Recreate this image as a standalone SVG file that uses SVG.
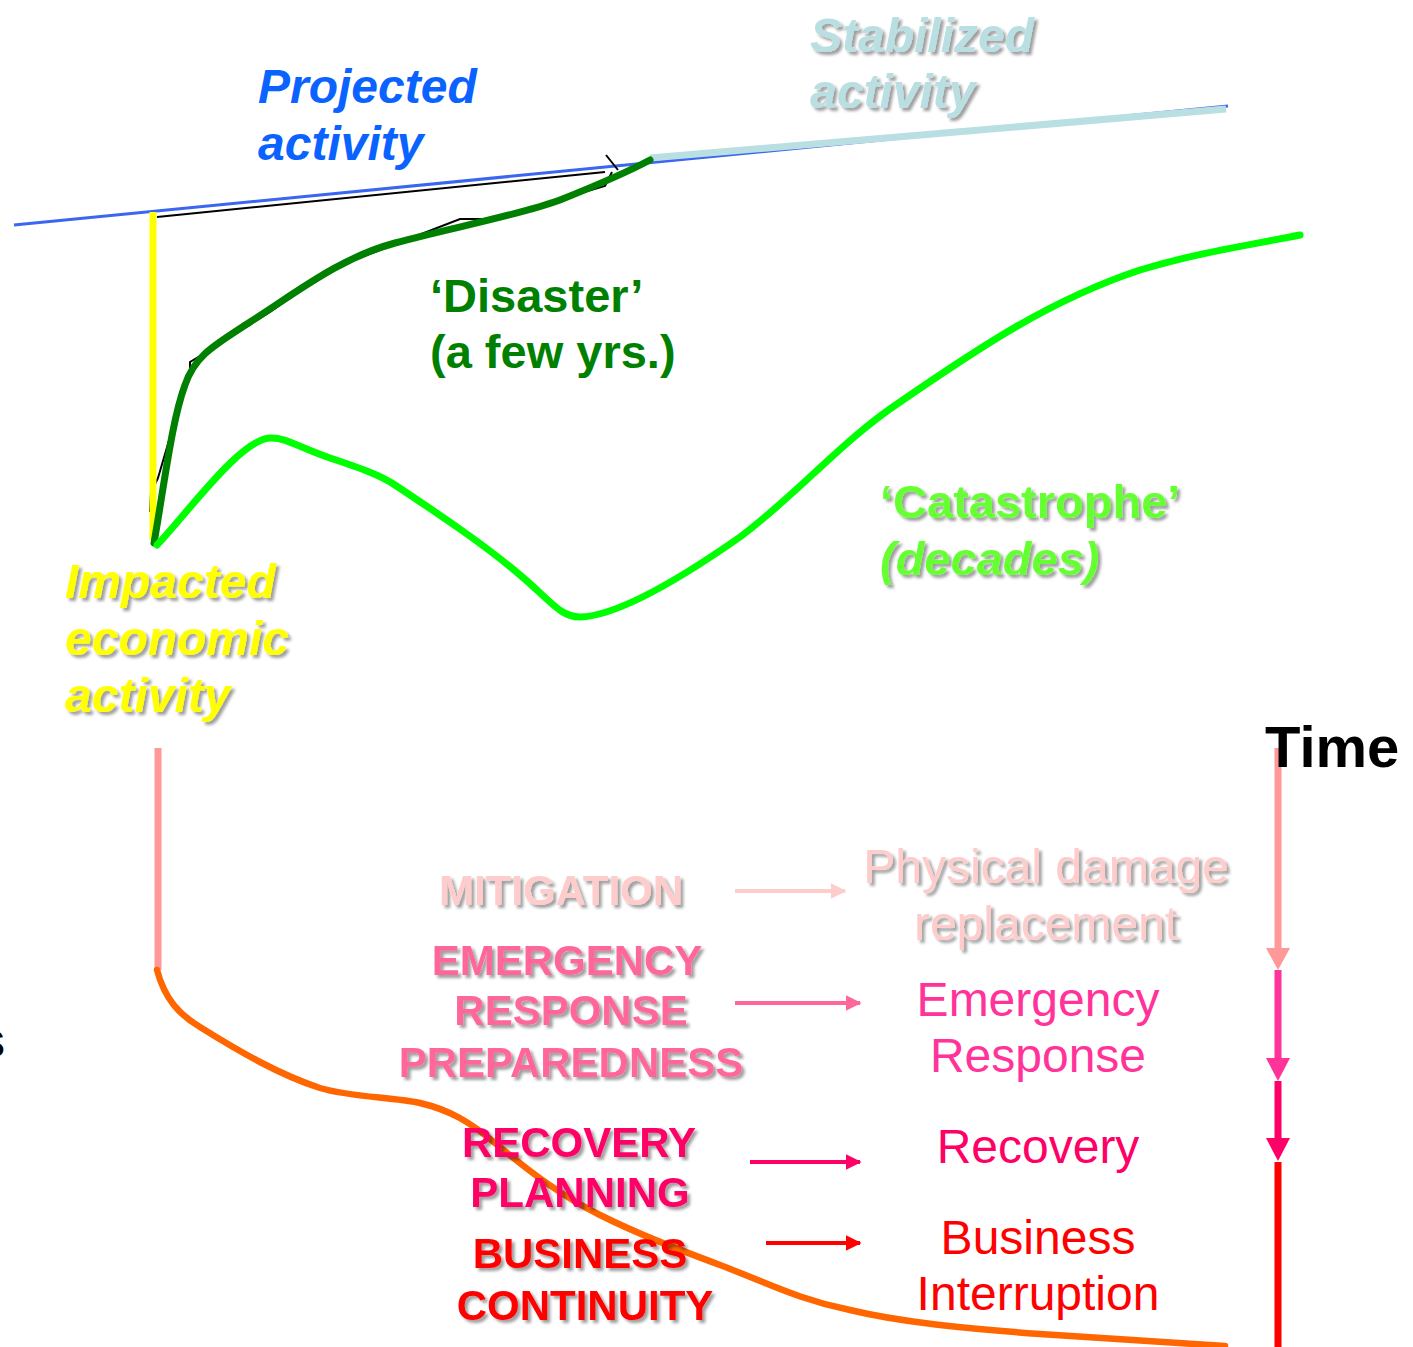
<svg xmlns="http://www.w3.org/2000/svg" width="1413" height="1347" viewBox="0 0 1413 1347">
  <style>
    text { font-family: "Liberation Sans", Arial, sans-serif; }
    .b { font-weight: bold; }
    .bi { font-weight: bold; font-style: italic; }
    .caps { font-weight: bold; font-size: 42px; text-anchor: middle; }
    .rt { font-size: 48px; text-anchor: middle; }
    .curve { fill: none; stroke-linecap: round; stroke-linejoin: round; }
  </style>
  <defs>
    <filter id="shadow" x="-10%" y="-20%" width="130%" height="150%">
      <feDropShadow dx="3" dy="3" stdDeviation="1.5" flood-color="#000" flood-opacity="0.38"/>
    </filter>
    <marker id="headPale" viewBox="0 0 10 10" refX="9" refY="5" markerWidth="4" markerHeight="4" orient="auto" markerUnits="strokeWidth">
      <path d="M0,0 L10,5 L0,10 Z" fill="#ffcccc"/>
    </marker>
    <marker id="headPink" viewBox="0 0 10 10" refX="9" refY="5" markerWidth="4" markerHeight="4" orient="auto" markerUnits="strokeWidth">
      <path d="M0,0 L10,5 L0,10 Z" fill="#ff6699"/>
    </marker>
    <marker id="headMagenta" viewBox="0 0 10 10" refX="9" refY="5" markerWidth="4" markerHeight="4" orient="auto" markerUnits="strokeWidth">
      <path d="M0,0 L10,5 L0,10 Z" fill="#ff0066"/>
    </marker>
    <marker id="headRed" viewBox="0 0 10 10" refX="9" refY="5" markerWidth="4" markerHeight="4" orient="auto" markerUnits="strokeWidth">
      <path d="M0,0 L10,5 L0,10 Z" fill="#ff0000"/>
    </marker>
  </defs>

  <rect width="1413" height="1347" fill="#ffffff"/>

  <!-- activity curves -->
  <g id="curves">
    <line id="projected-line" x1="14" y1="225" x2="1228" y2="106" stroke="#3a66f0" stroke-width="3"/>
    <line id="stabilized-line" x1="650" y1="158" x2="1226" y2="109" stroke="#b9dfe2" stroke-width="7"/>
    <g id="trace" fill="none" stroke="#000" stroke-width="2">
      <line x1="157" y1="217" x2="605" y2="172"/>
      <line x1="606" y1="155" x2="618" y2="170"/>
      <polyline points="150,512 151,493 158,478 175,420 190,375 190,362 210,350 270,312 335,267 380,250 460,219 491,219 540,205 605,186 612,172"/>
    </g>
    <line id="impact-drop" x1="153" y1="212" x2="153" y2="540" stroke="#ffff00" stroke-width="7"/>
    <path id="disaster-curve" class="curve" stroke="#008000" stroke-width="7"
          d="M154,543 C165,480 172,420 185,385 C195,355 215,345 250,322 C300,290 340,258 395,243 C450,228 520,215 560,200 C590,188 620,176 650,160"/>
    <path id="catastrophe-curve" class="curve" stroke="#00ff00" stroke-width="7"
          d="M157,545 C190,510 240,440 270,438 C285,437 300,448 330,458 C360,468 380,475 395,485 C440,515 485,545 520,575 C550,600 560,617 580,617 C620,616 690,572 740,537 C800,492 840,442 900,402 C980,347 1050,300 1140,270 C1200,252 1250,245 1300,235"/>
  </g>

  <!-- loss curve and timeline connectors -->
  <g id="connectors">
    <line x1="158" y1="748" x2="158" y2="970" stroke="#ff9999" stroke-width="7"/>
    <path class="curve" stroke="#ff6600" stroke-width="6.5"
          d="M157,970 C165,1000 180,1015 200,1027 C240,1052 280,1075 320,1088 C350,1097 390,1097 420,1103 C450,1110 470,1122 495,1143 C530,1172 560,1195 600,1215 C640,1235 680,1250 720,1265 C770,1284 800,1300 850,1310 C900,1322 960,1328 1040,1334 C1120,1339 1180,1343 1225,1346"/>

    <!-- time axis -->
    <line x1="1278" y1="748" x2="1278" y2="950" stroke="#ff9999" stroke-width="7"/>
    <polygon points="1266,948 1290,948 1278,970" fill="#ff9999"/>
    <line x1="1278" y1="970" x2="1278" y2="1060" stroke="#ff3399" stroke-width="7"/>
    <polygon points="1266,1058 1290,1058 1278,1081" fill="#ff3399"/>
    <line x1="1278" y1="1081" x2="1278" y2="1140" stroke="#ff0066" stroke-width="7"/>
    <polygon points="1266,1138 1290,1138 1278,1161" fill="#ff0066"/>
    <line x1="1278" y1="1162" x2="1278" y2="1347" stroke="#ff0000" stroke-width="7"/>

    <!-- phase to consequence arrows -->
    <line x1="735" y1="891" x2="845" y2="891" stroke="#ffcccc" stroke-width="4" marker-end="url(#headPale)"/>
    <line x1="735" y1="1003" x2="860" y2="1003" stroke="#ff6699" stroke-width="4" marker-end="url(#headPink)"/>
    <line x1="750" y1="1162" x2="860" y2="1162" stroke="#ff0066" stroke-width="4" marker-end="url(#headMagenta)"/>
    <line x1="766" y1="1243" x2="860" y2="1243" stroke="#ff0000" stroke-width="4" marker-end="url(#headRed)"/>
  </g>

  <!-- curve labels -->
  <g id="label-projected">
    <text class="bi" x="258" y="103" font-size="48" fill="#0a62ff">Projected</text>
    <text class="bi" x="258" y="160" font-size="48" fill="#0a62ff">activity</text>
  </g>
  <g id="label-stabilized" filter="url(#shadow)">
    <text class="bi" x="810" y="52" font-size="48" fill="#b9dfe2">Stabilized</text>
    <text class="bi" x="810" y="108" font-size="48" fill="#b9dfe2">activity</text>
  </g>
  <g id="label-disaster">
    <text class="b" x="430" y="312" font-size="47" fill="#008000">‘Disaster’</text>
    <text class="b" x="430" y="368" font-size="47" fill="#008000">(a few yrs.)</text>
  </g>
  <g id="label-catastrophe" filter="url(#shadow)">
    <text class="b" x="880" y="518" font-size="47" fill="#66ff33">‘Catastrophe’</text>
    <text class="bi" x="880" y="575" font-size="47" fill="#66ff33">(decades)</text>
  </g>
  <g id="label-impacted" filter="url(#shadow)">
    <text class="bi" x="65" y="598" font-size="48" fill="#ffff00">Impacted</text>
    <text class="bi" x="65" y="655" font-size="48" fill="#ffff00">economic</text>
    <text class="bi" x="65" y="712" font-size="48" fill="#ffff00">activity</text>
  </g>
  <g id="label-time">
    <text class="b" x="1265" y="767" font-size="58" fill="#000">Time</text>
  </g>
  <text x="-19" y="1057" font-size="48" fill="#000">s</text>

  <!-- phases -->
  <g id="phase-mitigation" filter="url(#shadow)">
    <text class="caps" x="561" y="905" fill="#ffcccc">MITIGATION</text>
  </g>
  <g id="phase-emergency" filter="url(#shadow)">
    <text class="caps" x="567" y="975" fill="#ff6699">EMERGENCY</text>
    <text class="caps" x="571" y="1025" fill="#ff6699">RESPONSE</text>
    <text class="caps" x="571" y="1077" fill="#ff6699">PREPAREDNESS</text>
  </g>
  <g id="phase-recovery" filter="url(#shadow)">
    <text class="caps" x="579" y="1157" fill="#ff0066">RECOVERY</text>
    <text class="caps" x="580" y="1207" fill="#ff0066">PLANNING</text>
  </g>
  <g id="phase-continuity" filter="url(#shadow)">
    <text class="caps" x="580" y="1268" fill="#ff0000">BUSINESS</text>
    <text class="caps" x="585" y="1320" fill="#ff0000">CONTINUITY</text>
  </g>

  <!-- consequences -->
  <g id="result-damage" filter="url(#shadow)">
    <text class="rt" x="1046" y="883" fill="#ffcccc">Physical damage</text>
    <text class="rt" x="1046" y="940" fill="#ffcccc">replacement</text>
  </g>
  <g id="result-emergency">
    <text class="rt" x="1038" y="1016" fill="#ff3399">Emergency</text>
    <text class="rt" x="1038" y="1072" fill="#ff3399">Response</text>
  </g>
  <g id="result-recovery">
    <text class="rt" x="1038" y="1163" fill="#ff0066">Recovery</text>
  </g>
  <g id="result-interruption">
    <text class="rt" x="1038" y="1254" fill="#ff0000">Business</text>
    <text class="rt" x="1038" y="1310" fill="#ff0000">Interruption</text>
  </g>
</svg>
